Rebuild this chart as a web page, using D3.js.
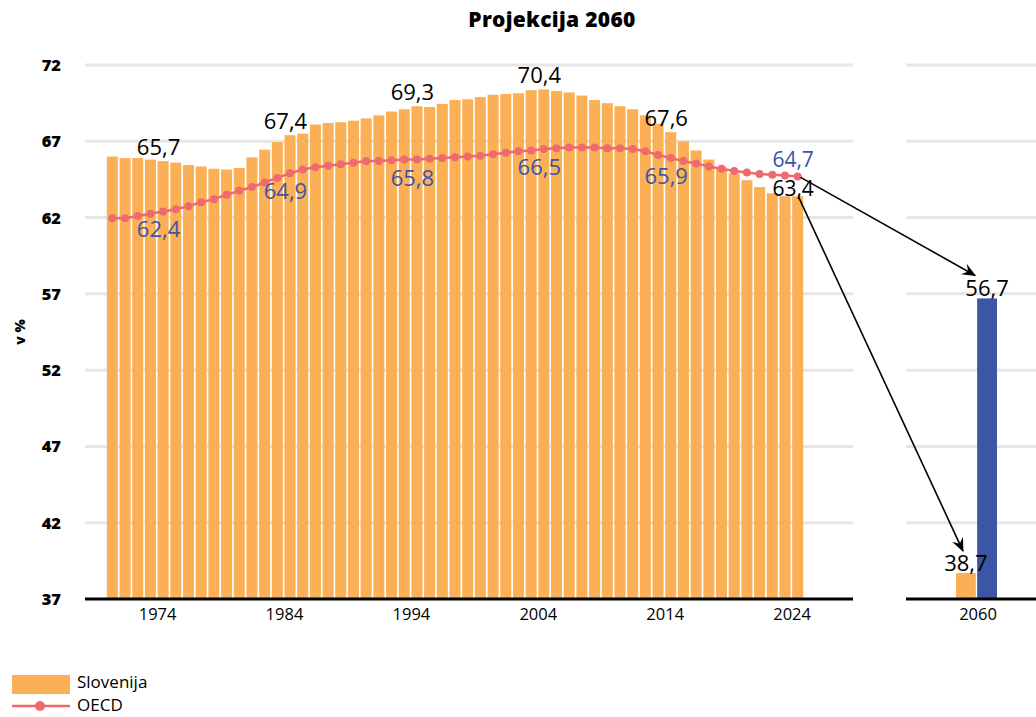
<!DOCTYPE html>
<html>
<head>
<meta charset="utf-8">
<script src="https://cdn.jsdelivr.net/npm/d3@7"></script>
<style>
  body { margin: 0; background: #fff; }
  svg { display: block; }
</style>
</head>
<body>
<svg id="chart" width="1036" height="717"></svg>
<script>
// podatki
const years = d3.range(1970, 2025);
const slovenija = [66.0, 65.9, 65.9, 65.8, 65.7, 65.6, 65.45, 65.35, 65.2, 65.15, 65.25, 65.95, 66.45, 66.95, 67.4,
  67.5, 68.1, 68.2, 68.25, 68.35, 68.5, 68.7, 68.95, 69.1, 69.3, 69.25, 69.45, 69.7, 69.75, 69.9, 70.05, 70.1,
  70.15, 70.35, 70.4, 70.3, 70.2, 70.0, 69.7, 69.5, 69.3, 69.1, 68.7, 68.15, 67.6, 67.0, 66.4, 65.8, 65.3, 64.9,
  64.45, 64.0, 63.6, 63.4, 63.4];
const oecd = [61.95, 61.95, 62.1, 62.25, 62.4, 62.55, 62.75, 63.0, 63.2, 63.5, 63.75, 64.0, 64.3, 64.6, 64.9,
  65.15, 65.3, 65.4, 65.5, 65.6, 65.7, 65.7, 65.75, 65.8, 65.8, 65.85, 65.9, 65.95, 66.0, 66.05, 66.15, 66.25,
  66.35, 66.4, 66.5, 66.55, 66.6, 66.6, 66.6, 66.55, 66.55, 66.5, 66.35, 66.1, 65.9, 65.7, 65.55, 65.35, 65.2,
  65.05, 64.95, 64.85, 64.8, 64.75, 64.7];
const tickYears = [1974, 1984, 1994, 2004, 2014, 2024];
const yTicks = [37, 42, 47, 52, 57, 62, 67, 72];
const projSeries = ["Slovenija", "OECD"];
const projValues = [38.7, 56.7];
const projCategory = ["2060"];

const orange = "#fbb056", red = "#ee6a6e", blue = "#3c55a5";
const font = "'Open Sans', 'Noto Sans', sans-serif";
const fmt = v => d3.format(".1f")(v).replace(".", ",");

const svg = d3.select("#chart").attr("font-family", font);

const y = d3.scaleLinear().domain([37, 72]).range([599, 65]);
const x = d3.scaleBand().domain(years).range([106, 804]).paddingInner(0.13).paddingOuter(0.065);
const x2 = d3.scaleBand().domain(projSeries).range([956, 997]).paddingInner(0.06);

// naslov
svg.append("text")
  .attr("x", 552).attr("y", 27)
  .attr("text-anchor", "middle")
  .attr("font-size", 21).attr("font-weight", 800)
  .attr("letter-spacing", 0.3)
  .text("Projekcija 2060");

// mreža
const grid = svg.append("g");
[[85, 853], [906, 1036]].forEach(([a, b]) => {
  grid.selectAll(null).data(yTicks.slice(1)).enter().append("line")
    .attr("x1", a).attr("x2", b)
    .attr("y1", d => y(d)).attr("y2", d => y(d))
    .attr("stroke", "#e6e6e6").attr("stroke-width", 3);
});

// y os
svg.append("g").selectAll("text").data(yTicks).enter().append("text")
  .attr("x", 61).attr("y", d => y(d) + 6)
  .attr("text-anchor", "end")
  .attr("font-size", 16.5).attr("font-weight", 800)
  .text(d => d);

svg.append("text")
  .attr("transform", `translate(25,${y(54.5)}) rotate(-90)`)
  .attr("text-anchor", "middle")
  .attr("font-size", 14).attr("font-weight", 800)
  .text("v %");

// stolpci Slovenija
svg.append("g").selectAll("rect").data(years).enter().append("rect")
  .attr("x", d => x(d))
  .attr("width", x.bandwidth())
  .attr("y", (d, i) => y(slovenija[i]))
  .attr("height", (d, i) => y(37) - y(slovenija[i]))
  .attr("fill", orange);

// projekcija
svg.append("g").selectAll("rect").data(projSeries).enter().append("rect")
  .attr("x", d => x2(d))
  .attr("width", x2.bandwidth())
  .attr("y", (d, i) => y(projValues[i]))
  .attr("height", (d, i) => y(37) - y(projValues[i]))
  .attr("fill", (d, i) => i === 0 ? orange : blue);

// osi x
[[85, 853], [906, 1036]].forEach(([a, b]) => {
  svg.append("line")
    .attr("x1", a).attr("x2", b)
    .attr("y1", y(37)).attr("y2", y(37))
    .attr("stroke", "#000").attr("stroke-width", 3);
});

svg.append("g").selectAll("text").data(tickYears).enter().append("text")
  .attr("x", d => x(d))
  .attr("y", 620)
  .attr("text-anchor", "middle")
  .attr("font-size", 16.5)
  .text(d => d);

svg.append("text")
  .attr("x", x2.range()[0] + 22).attr("y", 620)
  .attr("text-anchor", "middle")
  .attr("font-size", 16.5)
  .text(projCategory[0]);

// OECD črta
const line = d3.line()
  .x((d, i) => x(years[i]) + x.bandwidth() / 2)
  .y(d => y(d));

svg.append("path")
  .datum(oecd)
  .attr("d", line)
  .attr("fill", "none")
  .attr("stroke", red).attr("stroke-width", 2.5);

svg.append("g").selectAll("circle").data(oecd).enter().append("circle")
  .attr("cx", (d, i) => x(years[i]) + x.bandwidth() / 2)
  .attr("cy", d => y(d))
  .attr("r", 4)
  .attr("fill", red);

// oznake vrednosti
const last = years[years.length - 1];
tickYears.forEach(yr => {
  const i = years.indexOf(yr);
  const isLast = yr === last;
  svg.append("text")
    .attr("x", x(yr) + 1)
    .attr("y", isLast ? y(slovenija[i]) : y(slovenija[i]) - 6)
    .attr("text-anchor", "middle")
    .attr("font-size", isLast ? 21 : 22)
    .attr("fill", "#000")
    .text(fmt(slovenija[i]));
  svg.append("text")
    .attr("x", x(yr) + 1)
    .attr("y", isLast ? y(oecd[i]) - 9 : y(oecd[i]) + 26)
    .attr("text-anchor", "middle")
    .attr("font-size", isLast ? 21 : 22)
    .attr("fill", blue)
    .text(fmt(oecd[i]));
});

projSeries.forEach((s, i) => {
  svg.append("text")
    .attr("x", x2(s) + x2.bandwidth() / 2)
    .attr("y", y(projValues[i]) - 2)
    .attr("text-anchor", "middle")
    .attr("font-size", 22)
    .text(fmt(projValues[i]));
});

// puščici
svg.append("defs").append("marker")
  .attr("id", "arrow")
  .attr("viewBox", "0 0 14 12")
  .attr("refX", 13).attr("refY", 6)
  .attr("markerWidth", 14).attr("markerHeight", 12)
  .attr("markerUnits", "userSpaceOnUse")
  .attr("orient", "auto")
  .append("path")
  .attr("d", "M0,0 L14,6 L0,12 L5,6 Z")
  .attr("fill", "#000");

const lastX = x(last) + x.bandwidth() / 2;
const arrows = [
  { x1: lastX + 3, y1: y(oecd[oecd.length - 1]) + 1, x2: x2("OECD") - 2, y2: y(projValues[1]) - 23 },
  { x1: lastX + 1, y1: y(slovenija[slovenija.length - 1]) + 1, x2: x2("Slovenija") + 7, y2: y(projValues[0]) - 22 }
];
svg.append("g").selectAll("line").data(arrows).enter().append("line")
  .attr("x1", d => d.x1).attr("y1", d => d.y1)
  .attr("x2", d => d.x2).attr("y2", d => d.y2)
  .attr("stroke", "#000").attr("stroke-width", 1.6)
  .attr("marker-end", "url(#arrow)");

// legenda
const legend = svg.append("g").attr("font-size", 17);
legend.append("rect")
  .attr("x", 12).attr("y", 675).attr("width", 58).attr("height", 19)
  .attr("fill", orange);
legend.append("text").attr("x", 77).attr("y", 688).text("Slovenija");
legend.append("line")
  .attr("x1", 12).attr("x2", 70).attr("y1", 706).attr("y2", 706)
  .attr("stroke", red).attr("stroke-width", 2.5);
legend.append("circle").attr("cx", 40).attr("cy", 706).attr("r", 5).attr("fill", red);
legend.append("text").attr("x", 77).attr("y", 711).text("OECD");
</script>
</body>
</html>
